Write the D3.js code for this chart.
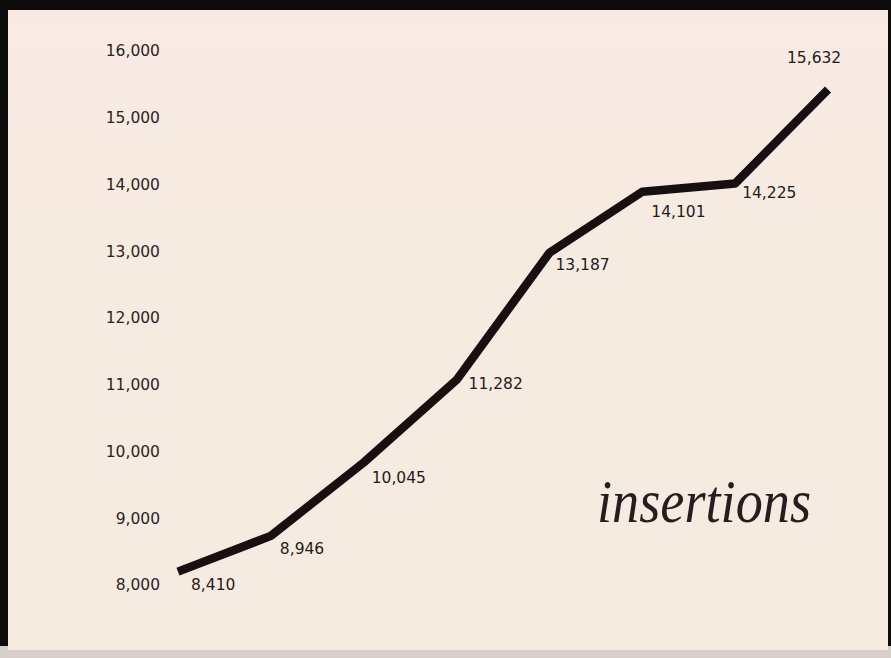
<!DOCTYPE html>
<html>
<head>
<meta charset="utf-8">
<script src="https://cdn.jsdelivr.net/npm/d3@7"></script>
<style>
  body { margin: 0; background: #111; }
  svg { display: block; }
</style>
</head>
<body>
<div id="chart"></div>
<script>
var svgWidth = 891;
var svgHeight = 658;

// data
var periods = ["1", "2", "3", "4", "5", "6", "7", "8"];
var insertions = [8410, 8946, 10045, 11282, 13187, 14101, 14225, 15632];
var tickValues = [8000, 9000, 10000, 11000, 12000, 13000, 14000, 15000, 16000];

// where each value label sits relative to its point
var labelOffsets = [[13, 13], [9, 13], [8, 15], [12, 4], [6, 12], [9, 20], [7, 9], [-41, -32]];

var svg = d3.select("#chart")
    .append("svg")
    .attr("width", svgWidth)
    .attr("height", svgHeight);

// dark frame of the scan, then the paper
svg.append("rect")
    .attr("width", svgWidth)
    .attr("height", svgHeight)
    .attr("fill", "#0d0b0b");

svg.append("rect")
    .attr("x", 0)
    .attr("y", 646)
    .attr("width", svgWidth)
    .attr("height", 12)
    .attr("fill", "#d8cfcb");

svg.append("rect")
    .attr("x", 8)
    .attr("y", 10)
    .attr("width", 880)
    .attr("height", 640)
    .attr("fill", "#f6ebe1");

// slight pink cast on the upper part of the paper
var grad = svg.append("defs").append("linearGradient")
    .attr("id", "paper")
    .attr("x1", 0).attr("y1", 0).attr("x2", 0).attr("y2", 1);
grad.append("stop").attr("offset", "0%").attr("stop-color", "#fbe9e5").attr("stop-opacity", 0.7);
grad.append("stop").attr("offset", "45%").attr("stop-color", "#f6ebe1").attr("stop-opacity", 0);

svg.append("rect")
    .attr("x", 8)
    .attr("y", 10)
    .attr("width", 880)
    .attr("height", 640)
    .attr("fill", "url(#paper)");

var xScale = d3.scalePoint()
    .domain(periods)
    .range([178, 828]);

var yScale = d3.scaleLinear()
    .domain([8000, 16000])
    .range([599, 65]);

var fmt = d3.format(",");

// y axis: labels only, no line or ticks
var leftAxis = d3.axisLeft(yScale)
    .tickValues(tickValues)
    .tickFormat(fmt)
    .tickSize(0)
    .tickPadding(0);

var yAxis = svg.append("g")
    .attr("transform", "translate(160, -14)")
    .call(leftAxis);

yAxis.select(".domain").remove();
yAxis.selectAll("text")
    .attr("fill", "#2b2424")
    .style("font-family", "'DejaVu Sans', sans-serif")
    .style("font-size", "15.5px");

var line = d3.line()
    .x((d, i) => xScale(periods[i]))
    .y(d => yScale(d));

svg.append("path")
    .datum(insertions)
    .attr("d", line)
    .attr("fill", "none")
    .attr("stroke", "#170f10")
    .attr("stroke-width", 8.5)
    .attr("stroke-linejoin", "round");

svg.selectAll("text.value")
    .data(insertions)
    .enter()
    .append("text")
    .classed("value", true)
    .attr("x", (d, i) => xScale(periods[i]) + labelOffsets[i][0])
    .attr("y", (d, i) => yScale(d) + labelOffsets[i][1])
    .attr("dy", "0.35em")
    .attr("fill", "#231c1c")
    .style("font-family", "'DejaVu Sans', sans-serif")
    .style("font-size", "15.5px")
    .text(d => fmt(d));

svg.append("text")
    .attr("x", 597)
    .attr("y", 522)
    .attr("textLength", 214)
    .attr("lengthAdjust", "spacingAndGlyphs")
    .attr("fill", "#2a1c1e")
    .style("font-family", "'Liberation Serif', serif")
    .style("font-style", "italic")
    .style("font-size", "62px")
    .text("insertions");
</script>
</body>
</html>
